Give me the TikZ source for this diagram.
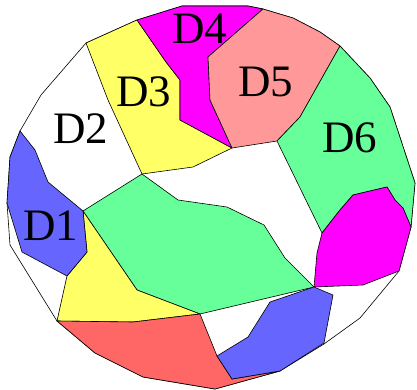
\documentclass[tikz,border=0pt]{standalone}
\usepackage{fontspec}
\setmainfont{Liberation Serif}
\definecolor{cblue}{RGB}{102,102,255}
\definecolor{cgreen}{RGB}{102,255,153}
\definecolor{cyellow}{RGB}{255,255,102}
\definecolor{cmag}{RGB}{255,0,255}
\definecolor{cpink}{RGB}{255,153,153}
\definecolor{cred}{RGB}{255,102,102}
\tikzset{
  region/.style={draw=black, line width=0.6pt, line join=round},
  lbl/.style={font=\fontsize{45}{45}\selectfont, inner sep=0pt, text=black}
}
\begin{document}
\begin{tikzpicture}[x=1pt,y=-1pt]
\useasboundingbox (0,0) rectangle (417,390);
% outer boundary
\draw[region, fill=white] (137,20) -- (182,6) -- (248,6) -- (263,9) -- (293,18) -- (320,32) -- (340,46) -- (370,78) -- (390,107) -- (415,183) -- (411,227) -- (399,271) -- (360,318) -- (324,344) -- (280,371) -- (215,389) -- (143,377) -- (95,353) -- (57,321) -- (10,245) -- (7,203) -- (10,157) -- (20,131) -- (41,95) -- (86,43) -- cycle;
% D3 yellow
\draw[region, fill=cyellow] (86,43) -- (137,20) -- (166,62) -- (180,80) -- (180,120) -- (232,148) -- (193,167) -- (142,174) -- (108,100) -- cycle;
% D4 magenta
\draw[region, fill=cmag] (137,20) -- (182,6) -- (248,6) -- (263,9) -- (208,57) -- (210,100) -- (232,148) -- (180,120) -- (180,80) -- (166,62) -- cycle;
% D5 pink
\draw[region, fill=cpink] (263,9) -- (293,18) -- (320,32) -- (340,46) -- (300,117) -- (277,141) -- (232,148) -- (210,100) -- (208,57) -- cycle;
% D6 green
\draw[region, fill=cgreen] (340,46) -- (370,78) -- (390,107) -- (415,183) -- (411,227) -- (403,208) -- (395,200) -- (387,187) -- (353,195) -- (340,210) -- (322,233) -- (277,141) -- (300,117) -- cycle;
% small magenta
\draw[region, fill=cmag] (353,195) -- (387,187) -- (395,200) -- (403,208) -- (411,227) -- (399,271) -- (363,285) -- (314,287) -- (317,253) -- (322,233) -- (340,210) -- cycle;
% big green
\draw[region, fill=cgreen] (83,211) -- (142,174) -- (178,200) -- (227,207) -- (264,225) -- (285,258) -- (314,287) -- (200,314) -- (137,290) -- cycle;
% yellow bottom
\draw[region, fill=cyellow] (83,211) -- (137,290) -- (200,314) -- (133,322) -- (57,321) -- (67,276) -- (87,252) -- cycle;
% red
\draw[region, fill=cred] (57,321) -- (133,322) -- (200,314) -- (217,356) -- (232,379) -- (280,371) -- (215,389) -- (143,377) -- (95,353) -- cycle;
% blue bottom
\draw[region, fill=cblue] (314,287) -- (333,295) -- (324,343) -- (280,371) -- (232,379) -- (217,356) -- (248,337) -- (270,302) -- cycle;
% D1 blue
\draw[region, fill=cblue] (20,131) -- (35,150) -- (48,182) -- (83,211) -- (87,252) -- (67,276) -- (22,252) -- (7,203) -- (10,157) -- cycle;
% labels
\node[lbl] (d1) at (51,226) {D1};
\node[lbl] (d2) at (81,129) {D2};
\node[lbl] (d3) at (144,92) {D3};
\node[lbl] (d4) at (200,29) {D4};
\node[lbl] (d5) at (266,82) {D5};
\node[lbl] (d6) at (350,138) {D6};
\end{tikzpicture}
\end{document}
